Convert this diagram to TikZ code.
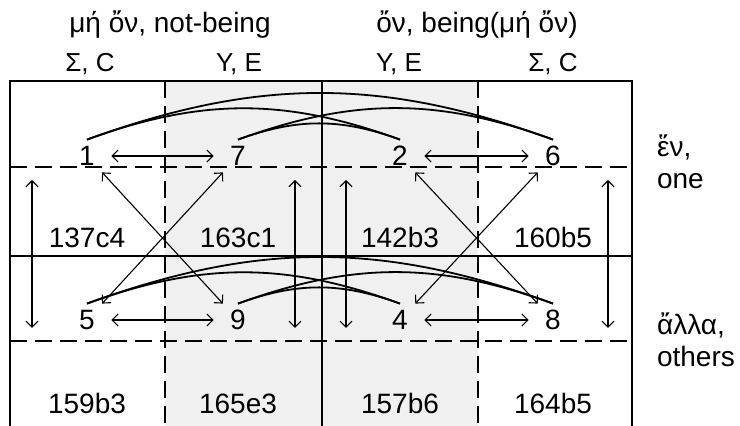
\documentclass[tikz,border=0pt]{standalone}
\usepackage{fontspec}
\setmainfont{Liberation Sans}
\usetikzlibrary{arrows.meta}
\definecolor{cellgray}{gray}{0.94}

\begin{document}
\begin{tikzpicture}[x=0.5pt, y=-0.5pt, font=\fontsize{14}{16}\selectfont,
    num/.style={minimum size=16pt, inner sep=0pt},
    passage/.style={anchor=base},
    colhead/.style={font=\fontsize{13}{15}\selectfont},
    sline/.style={line width=0.8pt},
    dline/.style={line width=0.8pt, dash pattern=on 8.5pt off 4pt},
    link/.style={{Straight Barb[length=3pt,width=6pt]}-{Straight Barb[length=3pt,width=6pt]}, line width=0.55pt},
    arc/.style={line width=0.9pt, bend left=20}]
  \useasboundingbox (0,0) rectangle (740,426);

  % shaded Y, E columns and the grid
  \fill[cellgray] (165,81) rectangle (478,426);
  \draw[sline] (10,426) -- (10,81) -- (632,81) -- (632,426);
  \draw[sline] (322,81) -- (322,426);
  \draw[sline] (10,256) -- (632,256);
  \draw[dline] (165,81) -- (165,426);
  \draw[dline] (478,81) -- (478,426);
  \draw[dline] (10,167) -- (632,167);
  \draw[dline] (10,341) -- (632,341);

  % headings
  \node (notbeing) at (170,25) {μή ὄν, not-being};
  \node (being) at (477,25) {ὄν, being(μή ὄν)};
  \node[colhead] (sc1) at (90,64) {Σ, C};
  \node[colhead] (ye1) at (239,64) {Y, E};
  \node[colhead] (ye2) at (399,64) {Y, E};
  \node[colhead] (sc2) at (553,64) {Σ, C};
  \node[anchor=west, align=left] (one) at (650,162) {ἕν,\\one};
  \node[anchor=west, align=left] (others) at (650,340) {ἄλλα,\\others};

  % passages
  \node[passage] (p1) at (87,248) {137c4};
  \node[passage] (p7) at (238,248) {163c1};
  \node[passage] (p2) at (400,248) {142b3};
  \node[passage] (p6) at (553,248) {160b5};
  \node[passage] (p5) at (87,414) {159b3};
  \node[passage] (p9) at (238,414) {165e3};
  \node[passage] (p4) at (400,414) {157b6};
  \node[passage] (p8) at (553,414) {164b5};

  % hypotheses
  \node[num] (n1) at (87,156) {1};
  \node[num] (n7) at (238,156) {7};
  \node[num] (n2) at (400,156) {2};
  \node[num] (n6) at (553,156) {6};
  \node[num] (n5) at (87,320) {5};
  \node[num] (n9) at (238,320) {9};
  \node[num] (n4) at (400,320) {4};
  \node[num] (n8) at (553,320) {8};

  \draw[link, shorten <=4pt, shorten >=4pt] (n1) -- (n7);
  \draw[link, shorten <=4pt, shorten >=4pt] (n2) -- (n6);
  \draw[link, shorten <=4pt, shorten >=4pt] (n5) -- (n9);
  \draw[link, shorten <=4pt, shorten >=4pt] (n4) -- (n8);

  \draw[link] (n1) -- (n9);
  \draw[link] (n7) -- (n5);
  \draw[link] (n2) -- (n8);
  \draw[link] (n6) -- (n4);

  \foreach \x [count=\i] in {32,295,346,608} {
    \coordinate (up\i) at (\x,180);
    \coordinate (dn\i) at (\x,328);
    \draw[link] (up\i) -- (dn\i);
  }

  \draw[arc] (n1.north) to (n6.north);
  \draw[arc] (n1.north) to (n2.north);
  \draw[arc] (n7.north) to (n6.north);
  \draw[arc] (n7.north) to (n2.north);
  \draw[arc] (n5.north) to (n8.north);
  \draw[arc] (n5.north) to (n4.north);
  \draw[arc] (n9.north) to (n8.north);
  \draw[arc] (n9.north) to (n4.north);
\end{tikzpicture}
\end{document}
